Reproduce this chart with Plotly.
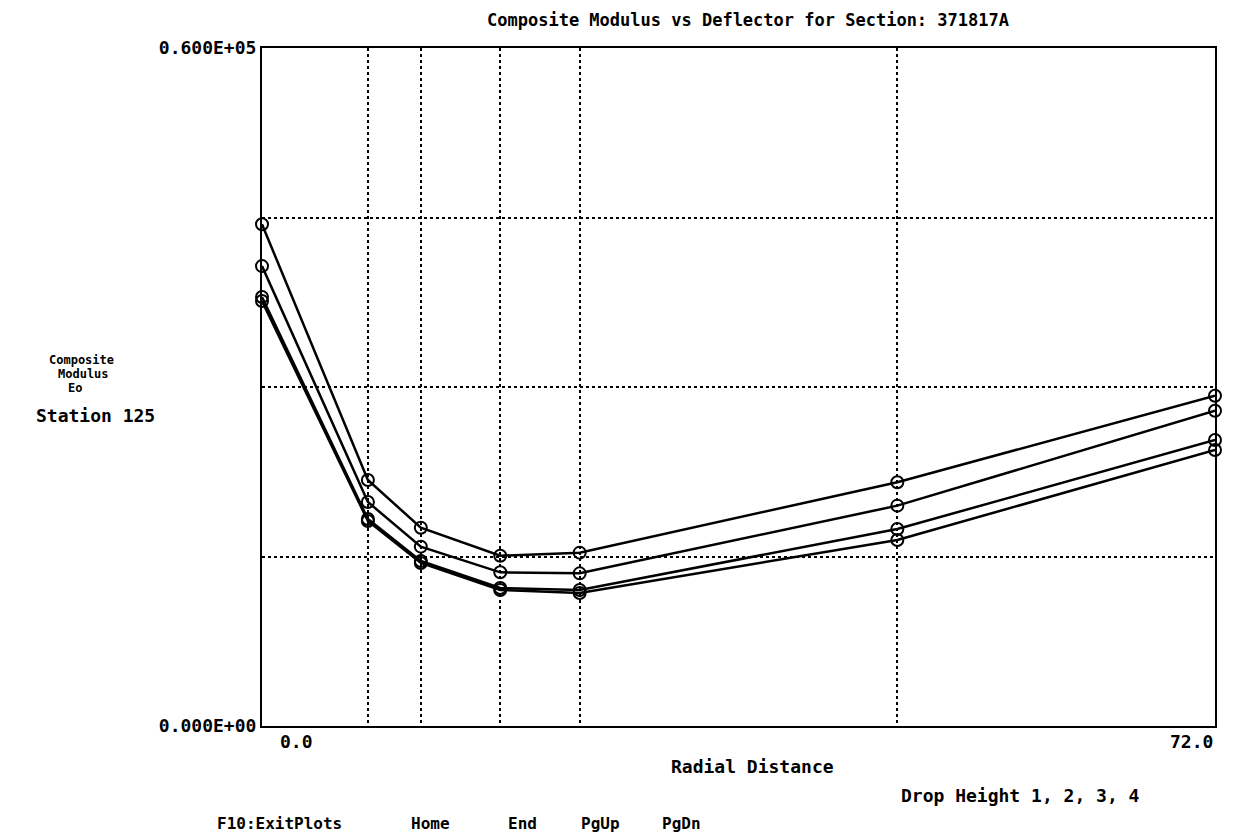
import plotly.graph_objects as go

# Data
radial_distance = [0, 8, 12, 18, 24, 48, 72]
drop_height_1 = [44400, 21770, 17550, 15070, 15340, 21570, 29230]
drop_height_2 = [40700, 19820, 15870, 13600, 13510, 19500, 27900]
drop_height_3 = [37970, 18320, 14600, 12210, 12040, 17430, 25310]
drop_height_4 = [37610, 18140, 14430, 12040, 11770, 16460, 24430]
series_names = ["Drop Height 1", "Drop Height 2", "Drop Height 3", "Drop Height 4"]
x_grid = [0, 8, 12, 18, 24, 48, 72]
y_grid = [0, 15000, 30000, 45000, 60000]
y_ticktext = ["0.000E+00", "", "", "", "0.600E+05"]

FONT = "DejaVu Sans Mono"
FS = 18

fig = go.Figure()
for name, vals in zip(series_names, [drop_height_1, drop_height_2, drop_height_3, drop_height_4]):
    fig.add_trace(go.Scatter(
        x=radial_distance, y=vals, name=name, mode="lines+markers",
        line=dict(color="black", width=2.5),
        marker=dict(symbol="circle-open", size=12, color="black", line=dict(width=2)),
        cliponaxis=False, showlegend=False,
    ))

fig.update_xaxes(
    range=[0, 72], tickvals=x_grid, ticktext=[""] * len(x_grid),
    showgrid=True, gridcolor="black", griddash="dot", gridwidth=2,
    showline=True, linecolor="black", linewidth=2, mirror=True,
    ticks="", zeroline=False,
)
fig.update_yaxes(
    range=[0, 60000], tickvals=y_grid, ticktext=y_ticktext,
    showgrid=True, gridcolor="black", griddash="dot", gridwidth=2,
    showline=True, linecolor="black", linewidth=2, mirror=True,
    ticks="", zeroline=False,
    tickfont=dict(family=FONT, size=FS, color="black", weight="bold"),
)

def px_x(px):
    return (px - 262) / 953.0

def px_y(py):
    return (726 - py) / 678.0

ann = []
def add(text, xp, yp, xanchor="center", size=FS):
    ann.append(dict(text=text, x=px_x(xp), y=px_y(yp), xref="paper", yref="paper",
                    xanchor=xanchor, yanchor="middle", showarrow=False,
                    font=dict(family=FONT, size=size, color="black", weight="bold")))

add("Composite Modulus vs Deflector for Section: 371817A", 748, 20, size=17)
add("Composite", 81, 360, size=12)
add("Modulus", 83, 374, size=12)
add("Eo", 75, 388, size=12)
add("Station 125", 95, 415)
add("0.0", 296, 741)
add("72.0", 1215, 741, "right")
add("Radial Distance", 752, 767)
add("Drop Height 1, 2, 3, 4", 1020, 795)
add("F10:ExitPlots", 279, 823, size=16)
add("Home", 430, 823, size=16)
add("End", 522, 823, size=16)
add("PgUp", 600, 823, size=16)
add("PgDn", 681, 823, size=16)

# The page body adds an 8px margin; size the figure so the plot area lands
# where the reference has it.
fig.update_layout(
    width=1236, height=827,
    margin=dict(l=254, r=29, t=40, b=109),
    paper_bgcolor="white", plot_bgcolor="white",
    annotations=ann,
)

fig.write_html("out.html")
